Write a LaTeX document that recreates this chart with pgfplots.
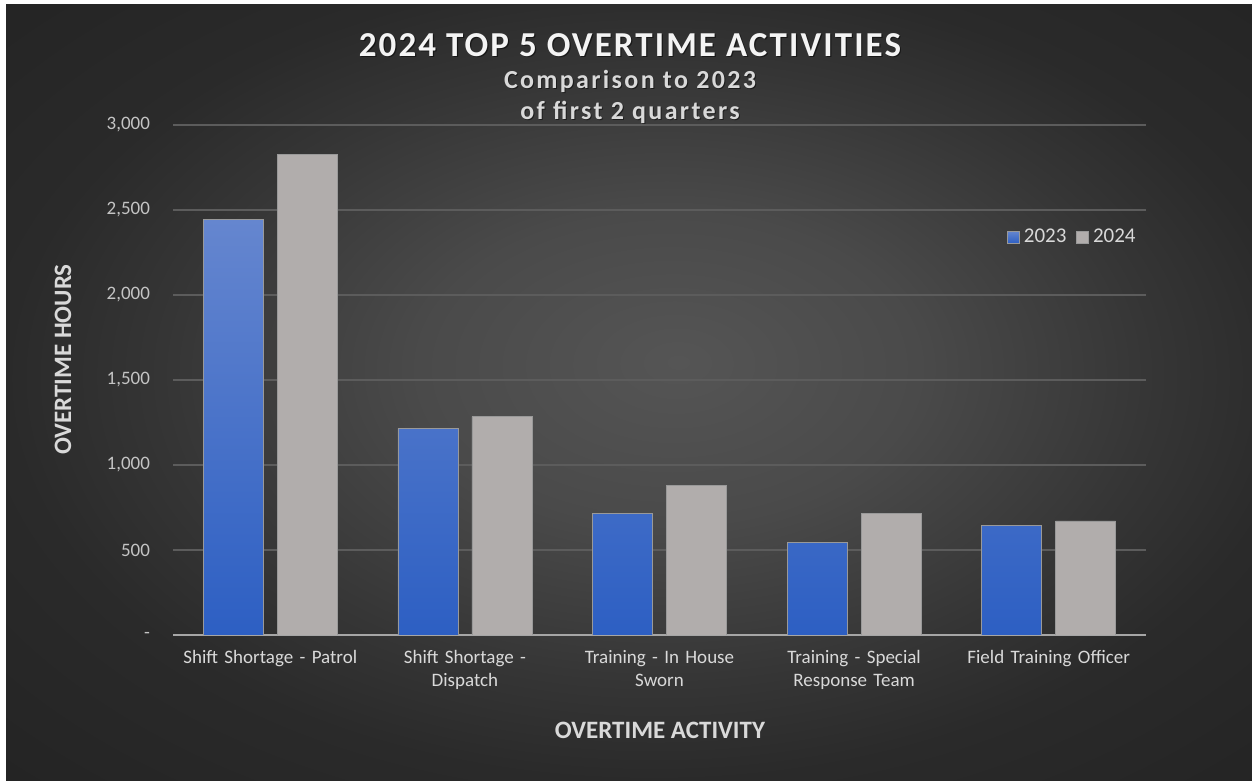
\documentclass[border=0pt]{standalone}
\usepackage{pgfplots}
\pgfplotsset{compat=1.18}
\usepackage{fontspec}
\setmainfont{Carlito}
\newfontfamily\titlefont[LetterSpace=6]{Carlito}
\newfontfamily\subfont[LetterSpace=9]{Carlito}
\definecolor{blueTop}{HTML}{6586CF}
\definecolor{blueBot}{HTML}{2D5FC3}
\definecolor{grayBar}{HTML}{B1ADAC}
\definecolor{bgA}{HTML}{555555}
\definecolor{bgB}{HTML}{4A4A4A}
\definecolor{bgC}{HTML}{353535}
\definecolor{bgD}{HTML}{2A2A2A}
\definecolor{bgE}{HTML}{242424}
\definecolor{gridc}{HTML}{5C5C5C}
\definecolor{axisc}{HTML}{A6A6A6}
\definecolor{tickc}{HTML}{C4C4C4}
\definecolor{labelc}{HTML}{D9D9D9}
\definecolor{titlec}{HTML}{F4F4F4}
\pgfdeclareradialshading{bgshade}{\pgfpoint{2bp}{2bp}}{color(0bp)=(bgA); color(10bp)=(bgB); color(20bp)=(bgC); color(26bp)=(bgD); color(36bp)=(bgE); color(50bp)=(bgE)}
\pgfplotstableread{
x y
0 2445
1 1216
2 716
3 543
4 643
}\dataA
\pgfplotstableread{
x y
0 2825
1 1284
2 880
3 714
4 671
}\dataB
\begin{document}
\begin{tikzpicture}
\fill[white] (0,0) rectangle (626pt,390.5pt);
\shade[shading=bgshade] (3pt,0) rectangle (626pt,388pt);
\node[text=black, opacity=0.5, font=\titlefont\bfseries\fontsize{17.5}{20}\selectfont] at (315.6pt,367.4pt) {2024 TOP 5 OVERTIME ACTIVITIES};
\node[text=titlec, font=\titlefont\bfseries\fontsize{17.5}{20}\selectfont] at (315pt,368pt) {2024 TOP 5 OVERTIME ACTIVITIES};
\node[text=black, opacity=0.5, font=\subfont\bfseries\fontsize{13}{15}\selectfont] at (315.5pt,349.5pt) {Comparison to 2023};
\node[text=labelc, font=\subfont\bfseries\fontsize{13}{15}\selectfont] at (315pt,350pt) {Comparison to 2023};
\node[text=black, opacity=0.5, font=\subfont\bfseries\fontsize{13}{15}\selectfont] at (315.5pt,334pt) {of first 2 quarters};
\node[text=labelc, font=\subfont\bfseries\fontsize{13}{15}\selectfont] at (315pt,334.5pt) {of first 2 quarters};
\begin{axis}[
  at={(86.5pt,73pt)}, anchor=south west,
  scale only axis, width=486.5pt, height=255pt,
  ymin=0, ymax=3000, xmin=-0.5, xmax=4.5,
  ybar=7pt, bar width=30pt,
  separate axis lines,
  axis x line*=bottom, axis y line*=left,
  x axis line style={draw=axisc, line width=0.8pt, -},
  y axis line style={draw=none},
  major tick length=0pt, tick style={draw=none},
  ymajorgrids, grid style={draw=gridc, line width=0.6pt},
  xtick={0,1,2,3,4},
  xticklabels={{Shift Shortage - Patrol},{Shift Shortage -\\Dispatch},{Training - In House\\Sworn},{Training - Special\\Response Team},{Field Training Officer}},
  xticklabel style={text width=110pt, align=center, font=\fontsize{9.5}{11.5}\selectfont, text=labelc, yshift=-4pt},
  ytick={0,500,1000,1500,2000,2500,3000},
  yticklabels={{-},{500},{1,000},{1,500},{2,000},{2,500},{3,000}},
  yticklabel style={font=\fontsize{9.5}{11}\selectfont, text=tickc, xshift=-8pt},
  xlabel={OVERTIME ACTIVITY},
  xlabel style={at={(axis description cs:0.5005,-0.188)}, anchor=center, font=\bfseries\fontsize{12.5}{14}\selectfont, text=labelc},
  ylabel={OVERTIME HOURS},
  ylabel style={at={(axis description cs:-0.113,0.54)}, anchor=center, font=\bfseries\fontsize{12.5}{14}\selectfont, text=labelc},
  legend style={at={(axis description cs:1.0,0.78)}, anchor=east, draw=none, fill=none, font=\fontsize{10.5}{12}\selectfont, text=labelc, legend columns=2, /tikz/every even column/.append style={column sep=3pt}},
  legend image code/.code={\fill[#1] (0pt,-3pt) rectangle (6pt,3pt);},
]
\addplot[draw=black!40, line width=0.3pt, top color=blueTop, bottom color=blueBot] table[x=x,y=y] {\dataA};
\addplot[draw=black!40, line width=0.3pt, fill=grayBar] table[x=x,y=y] {\dataB};
\legend{2023,2024}
\end{axis}
\end{tikzpicture}
\end{document}
